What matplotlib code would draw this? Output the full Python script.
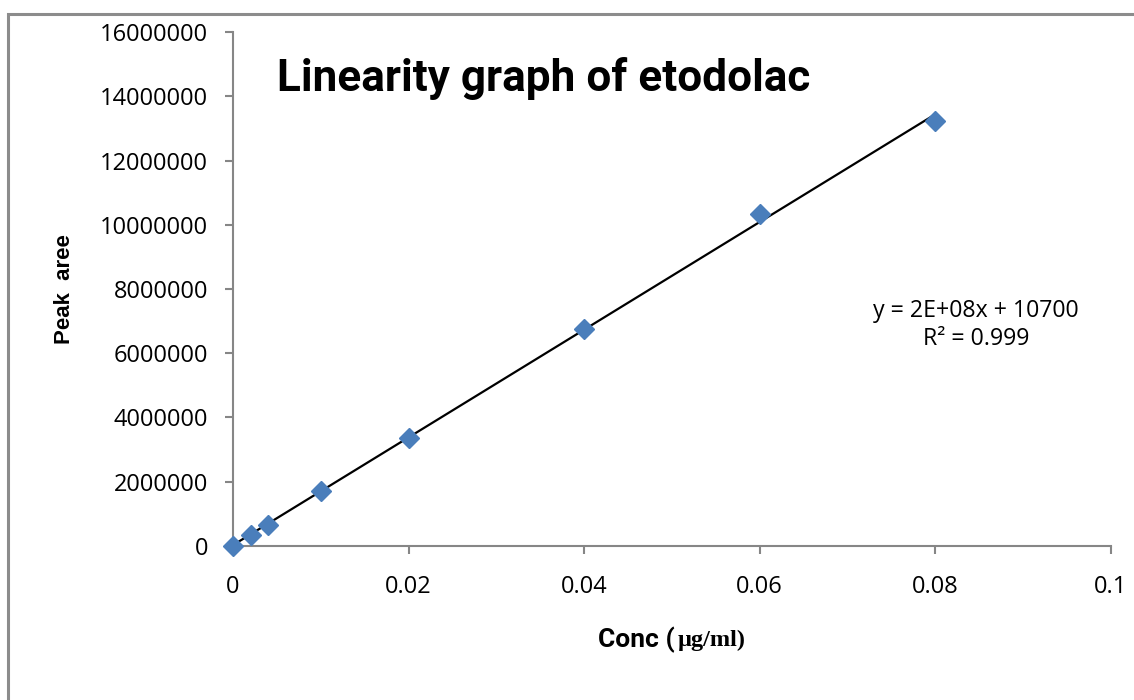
import matplotlib
matplotlib.use("Agg")
import matplotlib.pyplot as plt
import numpy as np
from matplotlib.patches import Rectangle

# concentration (ug/ml) vs peak area
conc = [0, 0.002, 0.004, 0.01, 0.02, 0.04, 0.06, 0.08]
area = [0, 333000, 646000, 1716000, 3370000, 6740000, 10340000, 13250000]
yticks = [0, 2000000, 4000000, 6000000, 8000000, 10000000, 12000000, 14000000, 16000000]
xticks = [0, 0.02, 0.04, 0.06, 0.08, 0.1]
xticklabels = ["0", "0.02", "0.04", "0.06", "0.08", "0.1"]

grey = "#868686"
blue = "#4A7EBB"

fig = plt.figure(figsize=(11.34, 7.0), dpi=100)
ax = fig.add_axes([233/1134, 1-545.7/700, (1110.7-233)/1134, (545.7-32.3)/700])

# chart border
fig.patches.append(Rectangle((8/1134, -0.05), 1.1, 1-14/700+0.05, transform=fig.transFigure,
                             fill=False, edgecolor="#8c8c8c", linewidth=2.2))

# linear trend line over data range
slope, icpt = np.polyfit(conc, area, 1)
xf = np.array([min(conc), max(conc)])
ax.plot(xf, slope*xf + icpt, color="black", linewidth=1.6, zorder=2)
ax.plot(conc, area, linestyle="none", marker="D", markersize=10.5, color=blue,
        markeredgecolor=blue, zorder=3, clip_on=False)

ax.set_xlim(0, 0.1)
ax.set_ylim(0, 16000000)
ax.set_xticks(xticks)
ax.set_xticklabels(xticklabels)
ax.set_yticks(yticks)
ax.set_yticklabels([str(v) for v in yticks])

for s in ["top", "right"]:
    ax.spines[s].set_visible(False)
for s in ["left", "bottom"]:
    ax.spines[s].set_color(grey)
    ax.spines[s].set_linewidth(1.5)
ax.tick_params(axis="both", direction="out", color=grey, width=1.5, length=6,
               labelsize=17, labelcolor="black")
ax.tick_params(axis="x", pad=15)
ax.tick_params(axis="y", pad=12)
for lab in ax.get_xticklabels() + ax.get_yticklabels():
    lab.set_family("Open Sans")

fig.text(277/1134, 1-78/700, "Linearity graph of etodolac", family="Roboto",
         fontweight="bold", fontsize=31.8, va="center", ha="left")

ax.text(0.08465, 6880000, "y = 2E+08x + 10700\nR\u00b2 = 0.999", family="Open Sans",
        fontsize=16.7, ha="center", va="center", linespacing=1.25)

fig.text(64/1134, 1-289/700, "Peak  aree", family="Liberation Sans", fontweight="bold",
         fontsize=16, rotation=90, ha="center", va="center")

t1 = fig.text(598/1134, 1-640/700, "Conc (", family="Roboto",
              fontweight="bold", fontsize=19, ha="left", va="center")
fig.canvas.draw()
bb = t1.get_window_extent()
fig.text((bb.x1 + 3)/1134, 1-640/700, "\u00b5g/ml)", family="Liberation Serif",
         fontweight="bold", fontsize=17.5, ha="left", va="center")

fig.savefig("out.png", dpi=100)
